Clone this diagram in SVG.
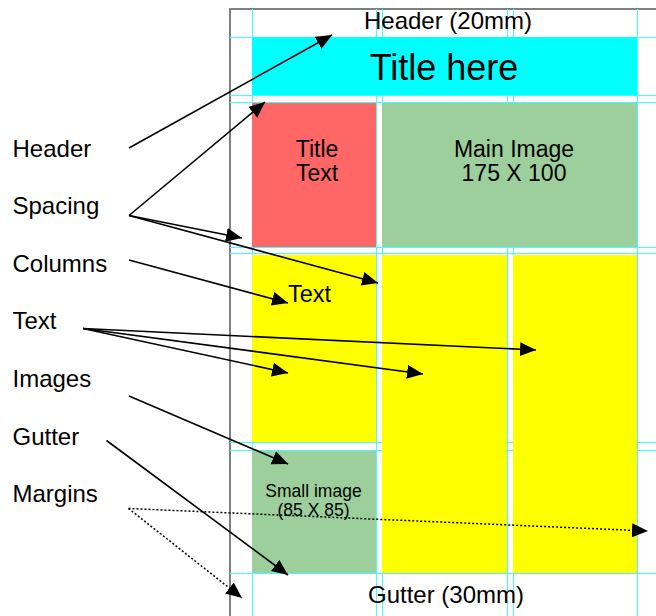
<svg xmlns="http://www.w3.org/2000/svg" width="656" height="616" viewBox="0 0 656 616">
<defs>
<marker id="ah" markerUnits="userSpaceOnUse" markerWidth="17" markerHeight="15" refX="16" refY="7" orient="auto">
<path d="M0,0 L16,7 L0,14 z" fill="#000"/>
</marker>
<style>
text{font-family:"Liberation Sans",Arial,sans-serif;fill:#000}
.g{stroke:#40ffff;stroke-width:1;fill:none}
.c{stroke:#000;stroke-width:1.6;fill:none;marker-end:url(#ah)}
.d{stroke:#000;stroke-width:1.5;fill:none;stroke-dasharray:2 2;marker-end:url(#ah)}
.l{font-size:24px}
</style>
</defs>
<rect width="656" height="616" fill="#fff"/>
<g id="page">
<path d="M230,616 V9 H656" stroke="#7f7f7f" stroke-width="2" fill="none"/>
</g>
<g id="guides">
<path class="g" d="M252.5,9 V616 M376.5,9 V616 M382.5,9 V616 M507.5,9 V616 M513.5,9 V616 M637.5,9 V616"/>
<path class="g" d="M230,37.5 H656 M230,95.5 H656 M230,102.5 H656 M230,247.5 H656 M230,253.5 H656 M230,442.5 H656 M230,450.5 H656 M230,573.5 H656"/>
</g>
<g id="header-text"><text x="448" y="29" font-size="24" text-anchor="middle">Header (20mm)</text></g>
<g id="title"><rect x="252" y="37" width="385" height="58" fill="#00ffff"/><text x="444" y="80" font-size="36" text-anchor="middle">Title here</text></g>
<g id="title-text"><rect x="252" y="103" width="124" height="144" fill="#ff6666"/><text x="317" y="157" font-size="23" text-anchor="middle">Title</text><text x="317" y="181" font-size="23" text-anchor="middle">Text</text></g>
<g id="main-image"><rect x="382" y="103" width="255" height="144" fill="#9ccf9c"/><text x="514" y="157" font-size="23" text-anchor="middle">Main Image</text><text x="514" y="181" font-size="23" text-anchor="middle">175 X 100</text></g>
<g id="col1"><rect x="252" y="255" width="124" height="187" fill="#ffff00"/><text x="288" y="302" font-size="23.5">Text</text></g>
<g id="col2"><rect x="382" y="255" width="125" height="318" fill="#ffff00"/></g>
<g id="col3"><rect x="513" y="255" width="124" height="318" fill="#ffff00"/></g>
<g id="small-image"><rect x="252" y="451" width="124" height="122" fill="#9ccf9c"/><text x="313.5" y="497" font-size="17.5" text-anchor="middle">Small image</text><text x="313.5" y="515.5" font-size="17.5" text-anchor="middle">(85 X 85)</text></g>
<g id="gutter-text"><text x="446" y="603" font-size="24" text-anchor="middle">Gutter (30mm)</text></g>
<g id="labels">
<text class="l" x="12.5" y="157">Header</text>
<text class="l" x="12.5" y="214">Spacing</text>
<text class="l" x="12.5" y="272">Columns</text>
<text class="l" x="12.5" y="329">Text</text>
<text class="l" x="12.5" y="387">Images</text>
<text class="l" x="12.5" y="445">Gutter</text>
<text class="l" x="12.5" y="502">Margins</text>
</g>
<g id="connectors">
<line class="c" x1="129" y1="148" x2="332" y2="35"/>
<line class="c" x1="129" y1="215.5" x2="265" y2="102"/>
<line class="c" x1="129" y1="215.5" x2="242" y2="238"/>
<line class="c" x1="129" y1="215.5" x2="378" y2="283"/>
<line class="c" x1="129" y1="260" x2="288" y2="303"/>
<line class="c" x1="83" y1="328.5" x2="536" y2="350"/>
<line class="c" x1="83" y1="328.5" x2="423" y2="374"/>
<line class="c" x1="83" y1="328.5" x2="288" y2="373"/>
<line class="c" x1="129" y1="396" x2="288" y2="464"/>
<line class="c" x1="106.5" y1="440.5" x2="288" y2="575"/>
<line class="d" x1="128.5" y1="508.5" x2="648" y2="531"/>
<line class="d" x1="128.5" y1="508.5" x2="242" y2="598"/>
</g>
</svg>
